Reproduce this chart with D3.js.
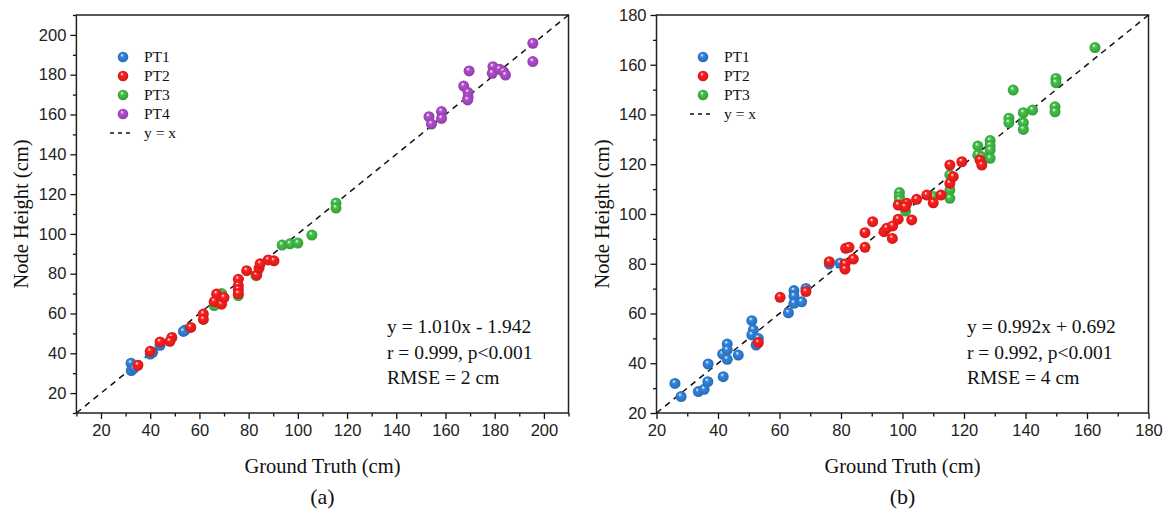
<!DOCTYPE html>
<html>
<head>
<meta charset="utf-8">
<script src="https://cdn.jsdelivr.net/npm/d3@7"></script>
<style>
  body { margin: 0; background: #fff; }
  .tick text { font-family: "Liberation Sans", Arial, sans-serif; font-size: 16.5px; fill: #222; }
  .serif { font-family: "Liberation Serif", "Times New Roman", serif; fill: #111; }
</style>
</head>
<body>
<svg id="chart" width="1168" height="514"></svg>
<script>
// --data (a)--
const a_pt1_x = [32.2, 32.3, 33.5, 40, 41, 44, 54.2, 53.5];
const a_pt1_y = [35, 31.3, 32.5, 39.6, 40.5, 44, 51.7, 51];
const a_pt3_x = [66, 69, 75.8, 83, 93.6, 96.8, 100, 105.7, 115.5, 115.5];
const a_pt3_y = [64, 70, 69, 79, 94.4, 95, 95.4, 99.4, 115.5, 113];
const a_pt2_x = [35, 40, 44, 48.8, 48, 56.5, 61.6, 61.6, 67, 66, 69, 69, 70, 75.8, 75.8, 75.8, 75.8, 79.2, 83.3, 84.2, 84.7, 88, 90.3];
const a_pt2_y = [34, 41, 45.7, 48, 46, 53, 59.7, 57, 69.8, 66, 66.8, 64.7, 68, 77.2, 74, 72, 70, 81.5, 79.3, 82.7, 85, 86.9, 86.5];
const a_pt4_x = [153.3, 154.3, 158.4, 158.4, 167.4, 169.2, 169.2, 169, 169.6, 179.3, 179, 182, 183.6, 184.4, 195.5, 195.5];
const a_pt4_y = [158.9, 155.2, 161.5, 158, 174.3, 171, 168.6, 167.3, 181.9, 184, 180.7, 182.7, 181.5, 179.8, 195.8, 186.6];

// --data (b)--
const b_pt3_x = [99, 99, 99, 101, 110, 115.4, 115.4, 115.4, 124.5, 124.5, 125.8, 128.5, 128.5, 128.5, 128.5, 134.6, 134.6, 136, 139.3, 139.3, 139.3, 142.3, 149.6, 149.6, 149.9, 149.9, 162.6];
const b_pt3_y = [108.6, 106.8, 105.6, 101.2, 107, 115.7, 109.6, 106.3, 127.3, 123.7, 123, 129.5, 127.5, 125.7, 122.4, 138.5, 136.7, 149.8, 140.7, 136.7, 134, 141.8, 143.1, 141.1, 154.5, 152.8, 166.9];
const b_pt1_x = [26, 28, 33.6, 35.5, 36.7, 36.8, 41.7, 41.5, 43, 43, 43, 46.6, 51, 51.5, 51, 53.1, 52.4, 62.9, 64.7, 64.7, 64.7, 67.2, 68.6, 76.2, 79.7];
const b_pt1_y = [31.9, 26.6, 28.6, 29.5, 32.6, 39.7, 34.6, 43.7, 47.7, 45.3, 41.6, 43.3, 57.1, 53.4, 51.4, 50, 47.3, 60.3, 69.2, 67, 64.1, 64.7, 70.1, 79.9, 80.2];
const b_pt2_x = [53.1, 60.2, 68.6, 76.2, 81.3, 81.3, 81.5, 82.6, 84, 87.8, 87.8, 90.3, 94, 94.9, 96.8, 96.7, 98.6, 98.6, 101.4, 103, 104.6, 100.8, 107.9, 110, 112.5, 115.4, 115.4, 116.5, 119.3, 125.2, 125.8];
const b_pt2_y = [48.3, 66.5, 68.8, 80.8, 79.9, 77.8, 86.2, 86.6, 81.9, 86.6, 92.5, 96.9, 92.9, 94.3, 95.2, 90.2, 97.9, 103.6, 104.3, 97.6, 105.9, 102.9, 107.6, 104.5, 107.6, 112.3, 119.7, 115, 121, 121.7, 119.7];

const a_ticks = [20, 40, 60, 80, 100, 120, 140, 160, 180, 200];
const b_ticks = [20, 40, 60, 80, 100, 120, 140, 160, 180];
const a_stats = ["y = 1.010x - 1.942", "r = 0.999, p<0.001", "RMSE = 2 cm"];
const b_stats = ["y = 0.992x + 0.692", "r = 0.992, p<0.001", "RMSE = 4 cm"];

const colors = { PT1: "#2c74c4", PT2: "#e51b1b", PT3: "#3aa940", PT4: "#9a44b4" };

var svg = d3.select("#chart");

// sphere-like gradients for the markers
var defs = svg.append("defs");
Object.keys(colors).forEach(function(k) {
  var g = defs.append("radialGradient")
    .attr("id", "grad-" + k)
    .attr("cx", "50%").attr("cy", "50%").attr("r", "55%")
    .attr("fx", "38%").attr("fy", "30%");
  g.append("stop").attr("offset", "0%").attr("stop-color", "#ffffff");
  g.append("stop").attr("offset", "30%").attr("stop-color", d3.color(colors[k]).brighter(0.4));
  g.append("stop").attr("offset", "100%").attr("stop-color", d3.color(colors[k]).darker(0.3));
});

function zip(xs, ys) { return xs.map((x, i) => [x, ys[i]]); }

function build_panel(opt) {
  var x = d3.scaleLinear().domain(opt.domain).range([opt.left, opt.right]);
  var y = d3.scaleLinear().domain(opt.domain).range([413, 15]);
  var g = svg.append("g");

  var minor = d3.range(opt.domain[0], opt.domain[1] + 1, 10).filter(v => opt.ticks.indexOf(v) < 0);

  // minor ticks
  g.append("g").attr("transform", "translate(0,413)")
    .call(d3.axisBottom(x).tickValues(minor).tickSize(3.5).tickFormat(""))
    .call(s => s.select(".domain").remove());
  g.append("g").attr("transform", `translate(${opt.left},0)`)
    .call(d3.axisLeft(y).tickValues(minor).tickSize(3.5).tickFormat(""))
    .call(s => s.select(".domain").remove());

  // major ticks
  g.append("g").attr("transform", "translate(0,413)")
    .call(d3.axisBottom(x).tickValues(opt.ticks).tickSize(6).tickPadding(5).tickSizeOuter(0))
    .call(s => s.select(".domain").remove());
  g.append("g").attr("transform", `translate(${opt.left},0)`)
    .call(d3.axisLeft(y).tickValues(opt.ticks).tickSize(6).tickPadding(4).tickSizeOuter(0))
    .call(s => s.select(".domain").remove());
  g.selectAll(".tick line").attr("stroke", "#111").attr("stroke-width", 1.3);

  // frame
  g.append("rect")
    .attr("x", opt.left).attr("y", 15)
    .attr("width", opt.right - opt.left).attr("height", 398)
    .attr("fill", "none").attr("stroke", "#222").attr("stroke-width", 1.5);

  // y = x
  g.append("line")
    .attr("x1", x(opt.domain[0])).attr("y1", y(opt.domain[0]))
    .attr("x2", x(opt.domain[1])).attr("y2", y(opt.domain[1]))
    .attr("stroke", "#111").attr("stroke-width", 1.5).attr("stroke-dasharray", "6,5");

  // points
  opt.series.forEach(function(s) {
    g.append("g").selectAll("circle")
      .data(zip(s.x, s.y))
      .join("circle")
      .attr("cx", d => x(d[0]))
      .attr("cy", d => y(d[1]))
      .attr("r", 5.5)
      .attr("fill", `url(#grad-${s.name})`);
  });

  // legend
  var lg = g.append("g");
  opt.legend.forEach(function(name, i) {
    var ly = opt.legY + i * 19;
    lg.append("circle").attr("cx", opt.legX).attr("cy", ly).attr("r", 5.3)
      .attr("fill", `url(#grad-${name})`);
    lg.append("text").attr("class", "serif").attr("x", opt.legX + 21).attr("y", ly + 5)
      .style("font-size", "15.5px").text(name);
  });
  var dy = opt.legY + opt.legend.length * 19;
  lg.append("line").attr("x1", opt.legX - 13).attr("x2", opt.legX + 9)
    .attr("y1", dy).attr("y2", dy)
    .attr("stroke", "#111").attr("stroke-width", 1.5).attr("stroke-dasharray", "4,4");
  lg.append("text").attr("class", "serif").attr("x", opt.legX + 21).attr("y", dy + 5)
    .style("font-size", "15.5px").text("y = x");

  // stats
  opt.stats.forEach(function(t, i) {
    g.append("text").attr("class", "serif")
      .attr("x", opt.statX).attr("y", 333 + i * 25.5)
      .style("font-size", "19.5px").text(t);
  });

  // axis titles
  var cx = (opt.left + opt.right) / 2;
  g.append("text").attr("class", "serif").attr("x", cx).attr("y", 473)
    .attr("text-anchor", "middle").style("font-size", "20.5px").text("Ground Truth (cm)");
  g.append("text").attr("class", "serif")
    .attr("transform", `translate(${opt.left - 48},214) rotate(-90)`)
    .attr("text-anchor", "middle").style("font-size", "20.5px").text("Node Height (cm)");
  g.append("text").attr("class", "serif").attr("x", cx).attr("y", 504)
    .attr("text-anchor", "middle").style("font-size", "22px").text(opt.tag);
}

build_panel({
  domain: [10, 210], left: 76.4, right: 568.5, ticks: a_ticks,
  series: [
    { name: "PT1", x: a_pt1_x, y: a_pt1_y },
    { name: "PT3", x: a_pt3_x, y: a_pt3_y },
    { name: "PT2", x: a_pt2_x, y: a_pt2_y },
    { name: "PT4", x: a_pt4_x, y: a_pt4_y }
  ],
  legend: ["PT1", "PT2", "PT3", "PT4"], legX: 123, legY: 57,
  stats: a_stats, statX: 387, tag: "(a)"
});

build_panel({
  domain: [20, 180], left: 656.5, right: 1148.5, ticks: b_ticks,
  series: [
    { name: "PT3", x: b_pt3_x, y: b_pt3_y },
    { name: "PT1", x: b_pt1_x, y: b_pt1_y },
    { name: "PT2", x: b_pt2_x, y: b_pt2_y }
  ],
  legend: ["PT1", "PT2", "PT3"], legX: 703, legY: 57,
  stats: b_stats, statX: 967, tag: "(b)"
});
</script>
</body>
</html>
